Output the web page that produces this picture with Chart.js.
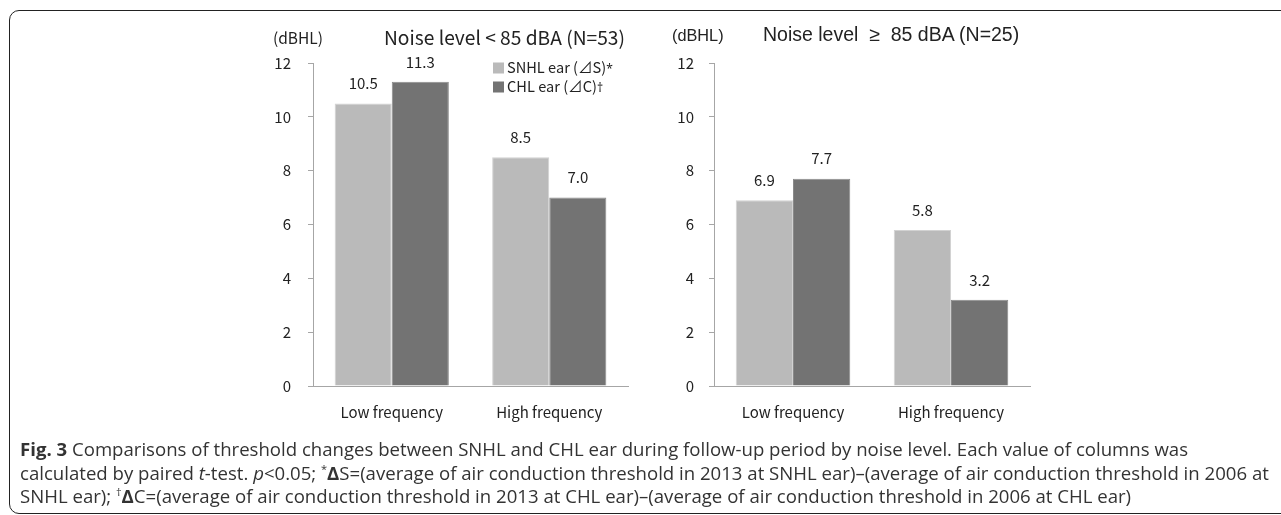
<!DOCTYPE html>
<html>
<head>
<meta charset="utf-8">
<script src="https://cdn.jsdelivr.net/npm/chart.js@4/dist/chart.umd.min.js"></script>
<style>
  html, body { margin: 0; padding: 0; background: #fff; }
  body { width: 1281px; height: 515px; position: relative; overflow: hidden; }
  .frame { position: absolute; left: 9px; top: 10px; width: 1320px; height: 502px;
           border: 1.5px solid #222; border-radius: 10px; }
  canvas { position: absolute; top: 0; }
  .txt { position: absolute; white-space: nowrap; color: #222; line-height: 1; transform: translateY(-50%); }
  .kr { font-family: "Noto Sans CJK KR", "Noto Sans", sans-serif; }
  .ar { font-family: "Liberation Sans", Arial, sans-serif; }
  .legend .sw { display: inline-block; width: 11px; height: 11px; margin-right: 3px; vertical-align: -1px; }
  .legend .mark { font-family: "Noto Sans", sans-serif; font-size: 12px; }
  .caption { position: absolute; left: 20px; top: 437px; font-family: "Open Sans", sans-serif;
             font-size: 18.6px; line-height: 23.6px; color: #333; white-space: nowrap; }
  .caption b { font-weight: 700; }
  .caption sup { font-size: 11px; vertical-align: 7px; line-height: 0; }
</style>
</head>
<body>
<div class="frame"></div>
<canvas id="lowChart" width="420" height="440" style="left:230px"></canvas>
<canvas id="highChart" width="420" height="440" style="left:640px"></canvas>

<div class="txt kr" style="left:273px; top:38px; font-size:15.5px">(dBHL)</div>
<div class="txt kr" id="lowTitle" style="left:384px; top:38px; font-size:19.2px"></div>
<div class="txt ar" style="left:672px; top:35px; font-size:16.3px">(dBHL)</div>
<div class="txt ar" id="highTitle" style="left:763px; top:35px; font-size:19.5px"></div>
<div class="legend kr" id="legend"></div>

<div class="caption">
  <div><b>Fig. 3</b> Comparisons of threshold changes between SNHL and CHL ear during follow-up period by noise level. Each value of columns was</div>
  <div>calculated by paired <i>t</i>-test. <i>p</i>&lt;0.05; <sup>*</sup><b>Δ</b>S=(average of air conduction threshold in 2013 at SNHL ear)–(average of air conduction threshold in 2006 at</div>
  <div>SNHL ear); <sup>†</sup><b>Δ</b>C=(average of air conduction threshold in 2013 at CHL ear)–(average of air conduction threshold in 2006 at CHL ear)</div>
</div>

<script>
// categories and values
const categories = ['Low frequency', 'High frequency'];
const seriesNames = ['SNHL ear (⊿S)*', 'CHL ear (⊿C)†'];
const seriesColors = ['#bababa', '#737373'];
const lowNoiseSNHL = [10.5, 8.5];
const lowNoiseCHL = [11.3, 7.0];
const highNoiseSNHL = [6.9, 5.8];
const highNoiseCHL = [7.7, 3.2];
const yMin = 0, yMax = 12, yStep = 2;
const titles = ['Noise level < 85 dBA (N=53)', 'Noise level \u00a0≥\u00a0 85 dBA (N=25)'];

document.getElementById('lowTitle').textContent = titles[0];
document.getElementById('highTitle').textContent = titles[1];

// legend (only on the left panel)
const legend = document.getElementById('legend');
seriesNames.forEach((name, i) => {
    const row = document.createElement('div');
    row.className = 'txt';
    row.style.left = '493px';
    row.style.top = (67 + i * 19) + 'px';
    row.style.fontSize = '14.6px';
    // footnote marks look better in a latin font
    const html = name.replace(/([*†])$/, '<span class="mark">$1</span>');
    row.innerHTML = '<span class="sw" style="background:' + seriesColors[i] + '"></span>' + html;
    legend.appendChild(row);
});

Chart.defaults.font.family = '"Noto Sans CJK KR", "Noto Sans", sans-serif';
Chart.defaults.color = '#222';

// numbers printed above each bar
const valueLabels = {
    id: 'valueLabels',
    afterDatasetsDraw(chart) {
        const ctx = chart.ctx;
        ctx.save();
        ctx.font = '15px "Noto Sans CJK KR", "Noto Sans", sans-serif';
        ctx.fillStyle = '#222';
        ctx.textAlign = 'center';
        ctx.textBaseline = 'middle';
        chart.data.datasets.forEach((ds, i) => {
            chart.getDatasetMeta(i).data.forEach((bar, j) => {
                ctx.fillText(ds.data[j].toFixed(1), bar.x, bar.y - 20);
            });
        });
        ctx.restore();
    }
};

function makeChart(id, snhl, chl, axisWidth, padRight, labelPad) {
    return new Chart(document.getElementById(id), {
        type: 'bar',
        data: {
            labels: categories,
            datasets: [
                { label: seriesNames[0], data: snhl, backgroundColor: seriesColors[0],
                  borderColor: '#d2d2d2', borderWidth: 1, borderSkipped: 'bottom' },
                { label: seriesNames[1], data: chl, backgroundColor: seriesColors[1],
                  borderColor: '#8a8a8a', borderWidth: 1, borderSkipped: 'bottom' }
            ]
        },
        options: {
            responsive: false,
            devicePixelRatio: 1,
            animation: false,
            layout: { padding: { top: 63, right: padRight, bottom: 0, left: 0 } },
            datasets: { bar: { barPercentage: 1.0, categoryPercentage: 0.725 } },
            plugins: { legend: { display: false }, tooltip: { enabled: false } },
            scales: {
                x: {
                    grid: { display: false, drawTicks: false },
                    border: { display: true, color: '#a6a6a6', width: 1 },
                    ticks: { padding: 17, font: { size: 15 }, color: '#222' },
                    afterFit: (scale) => { scale.height = 54; }
                },
                y: {
                    min: yMin, max: yMax,
                    ticks: { stepSize: yStep, padding: labelPad, font: { size: 15 }, color: '#222' },
                    grid: { drawOnChartArea: false, drawTicks: true, tickLength: 5, color: '#a6a6a6' },
                    border: { display: true, color: '#a6a6a6', width: 1 },
                    afterFit: (scale) => { scale.width = axisWidth; }
                }
            }
        },
        plugins: [valueLabels]
    });
}

makeChart('lowChart', lowNoiseSNHL, lowNoiseCHL, 83, 22, 17);
makeChart('highChart', highNoiseSNHL, highNoiseCHL, 74, 30, 15);
</script>
</body>
</html>
